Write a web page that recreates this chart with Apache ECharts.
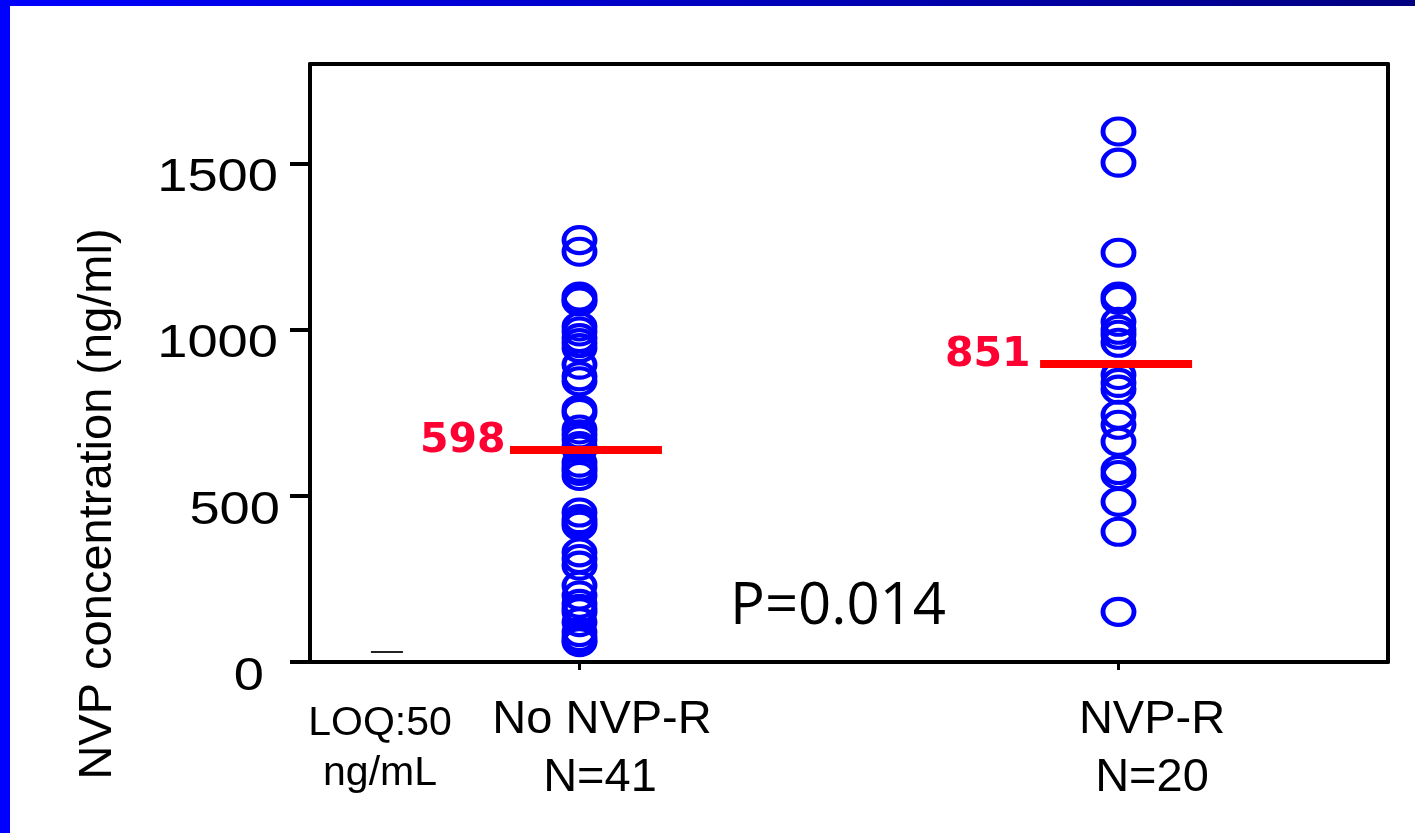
<!DOCTYPE html>
<html>
<head>
<meta charset="utf-8">
<script src="https://cdn.jsdelivr.net/npm/echarts@6/dist/echarts.min.js"></script>
<style>
html,body{margin:0;padding:0;background:#fff;}
#chart{width:1415px;height:833px;}
</style>
</head>
<body>
<div id="chart"></div>
<script>
// ---- data ----
var groupNames = ['No NVP-R', 'NVP-R'];
var groupCounts = ['N=41', 'N=20'];
var groupX = [1, 3];
var noNvpR = [1270, 1235, 1100, 1090, 1085, 1010, 995, 975, 960, 945, 895, 860, 845, 760, 750, 700, 685, 670, 650, 640, 600, 585, 575, 560, 450, 430, 420, 410, 330, 310, 290, 230, 200, 175, 160, 150, 120, 90, 75, 65, 60];
var nvpR = [1597, 1503, 1232, 1100, 1090, 1024, 1000, 985, 961, 864, 840, 820, 744, 714, 663, 578, 563, 482, 392, 151];
var medianDrawn = [638, 897];
var medianLabels = ['598', '851'];
var yTicks = [0, 500, 1000, 1500];
var yTickLabels = ['0', '500', '1000', '1500'];
var loqValue = 30;
var pText = 'P=0.014';

var chart = echarts.init(document.getElementById('chart'));

function pts(arr, x) { return arr.map(function (v) { return [x, v]; }); }

var circleStyle = {
  symbol: 'circle',
  symbolSize: [31, 26],
  itemStyle: { color: 'rgba(0,0,0,0)', borderColor: '#0000ff', borderWidth: 4.5, opacity: 1 },
  emphasis: { disabled: true },
  z: 2
};

var series = [
  Object.assign({ type: 'scatter', data: pts(noNvpR, groupX[0]) }, circleStyle),
  Object.assign({ type: 'scatter', data: pts(nvpR, groupX[1]) }, circleStyle)
];

var lineLeft = [0.258, 0.291], lineRight = [0.306, 0.273];
medianDrawn.forEach(function (m, i) {
  series.push({
    type: 'line',
    data: [[groupX[i] - lineLeft[i], m], [groupX[i] + lineRight[i], m]],
    symbol: 'none',
    lineStyle: { color: '#ff0000', width: 8, opacity: 1 },
    z: 5,
    silent: true
  });
  series.push({
    type: 'scatter',
    data: [[groupX[i] - lineLeft[i], m]],
    symbolSize: 1,
    itemStyle: { color: 'rgba(0,0,0,0)', opacity: 1 },
    label: {
      show: true, position: 'left', distance: i === 0 ? 4 : 9, offset: [0, -9],
      formatter: medianLabels[i], opacity: 1,
      color: '#ff0033', fontFamily: 'DejaVu Sans', fontWeight: 'bold', fontSize: 41
    },
    z: 6,
    silent: true
  });
});

series.push({
  type: 'line',
  data: [[0.226, loqValue], [0.345, loqValue]],
  symbol: 'none',
  lineStyle: { color: '#222', width: 2 },
  silent: true
});

var txt = function (x, y, s, font) {
  return { type: 'text', x: x, y: y, style: { text: s, fill: '#000', font: font, textAlign: 'center', textVerticalAlign: 'middle' } };
};

var graphics = [
  { type: 'rect', left: 0, top: 0, shape: { width: 10, height: 833 }, style: { fill: '#0000ff' }, silent: true, z: 100 },
  { type: 'rect', left: 0, top: 0, shape: { width: 1415, height: 6 },
    style: { fill: new echarts.graphic.LinearGradient(0, 0, 1, 0, [{ offset: 0, color: '#0000ff' }, { offset: 1, color: '#000080' }]) }, silent: true, z: 100 },
  { type: 'text', x: 98, y: 504, rotation: Math.PI / 2,
    style: { text: 'NVP concentration (ng/ml)', fill: '#000', font: '47px "Liberation Sans"', textAlign: 'center', textVerticalAlign: 'middle' } },
  txt(602, 720, groupNames[0], '47px "Liberation Sans"'),
  txt(600, 778, groupCounts[0], '47px "Liberation Sans"'),
  txt(1152, 720, groupNames[1], '47px "Liberation Sans"'),
  txt(1152, 778, groupCounts[1], '47px "Liberation Sans"'),
  txt(380, 724, 'LOQ:50', '41px "Liberation Sans"'),
  txt(380, 774, 'ng/mL', '41px "Liberation Sans"'),
  txt(838, 607, pText, '58px "Open Sans"')
];

var option = {
  animation: false,
  backgroundColor: '#ffffff',
  grid: { left: 310, right: 27, top: 64, bottom: 171 },
  xAxis: [{
    type: 'value', min: 0, max: 4,
    axisLine: { show: true, onZero: false, lineStyle: { color: '#000', width: 4 } },
    axisTick: { show: true, customValues: groupX, length: 8, lineStyle: { color: '#000', width: 3 } },
    axisLabel: { show: false },
    splitLine: { show: false }
  }, {
    type: 'value', min: 0, max: 4, position: 'top',
    axisLine: { show: true, onZero: false, lineStyle: { color: '#000', width: 4 } },
    axisTick: { show: false }, axisLabel: { show: false }, splitLine: { show: false }
  }],
  yAxis: [{
    type: 'value', min: 0, max: 1800,
    axisLine: { show: true, onZero: false, lineStyle: { color: '#000', width: 4 } },
    axisTick: { show: true, customValues: yTicks, length: 20, lineStyle: { color: '#000', width: 4 } },
    axisLabel: { show: false },
    splitLine: { show: false }
  }, {
    type: 'value', min: 0, max: 1800, position: 'right',
    axisLine: { show: true, onZero: false, lineStyle: { color: '#000', width: 4 } },
    axisTick: { show: false }, axisLabel: { show: false }, splitLine: { show: false }
  }],
  series: series,
  graphic: graphics
};
chart.setOption(option);

// y tick labels placed through the axis scale (slightly stretched like the original slide font)
var labelRight = [264, 280, 278, 278];
var tickGraphics = yTicks.map(function (v, i) {
  var py = chart.convertToPixel({ yAxisIndex: 0 }, v);
  return {
    type: 'text', x: labelRight[i], y: py + 15, scaleX: 1.18, scaleY: 1,
    style: { text: yTickLabels[i], fill: '#000', font: '46px "Liberation Sans"', textAlign: 'right', textVerticalAlign: 'middle' }
  };
});
chart.setOption({ graphic: graphics.concat(tickGraphics) });
</script>
</body>
</html>
